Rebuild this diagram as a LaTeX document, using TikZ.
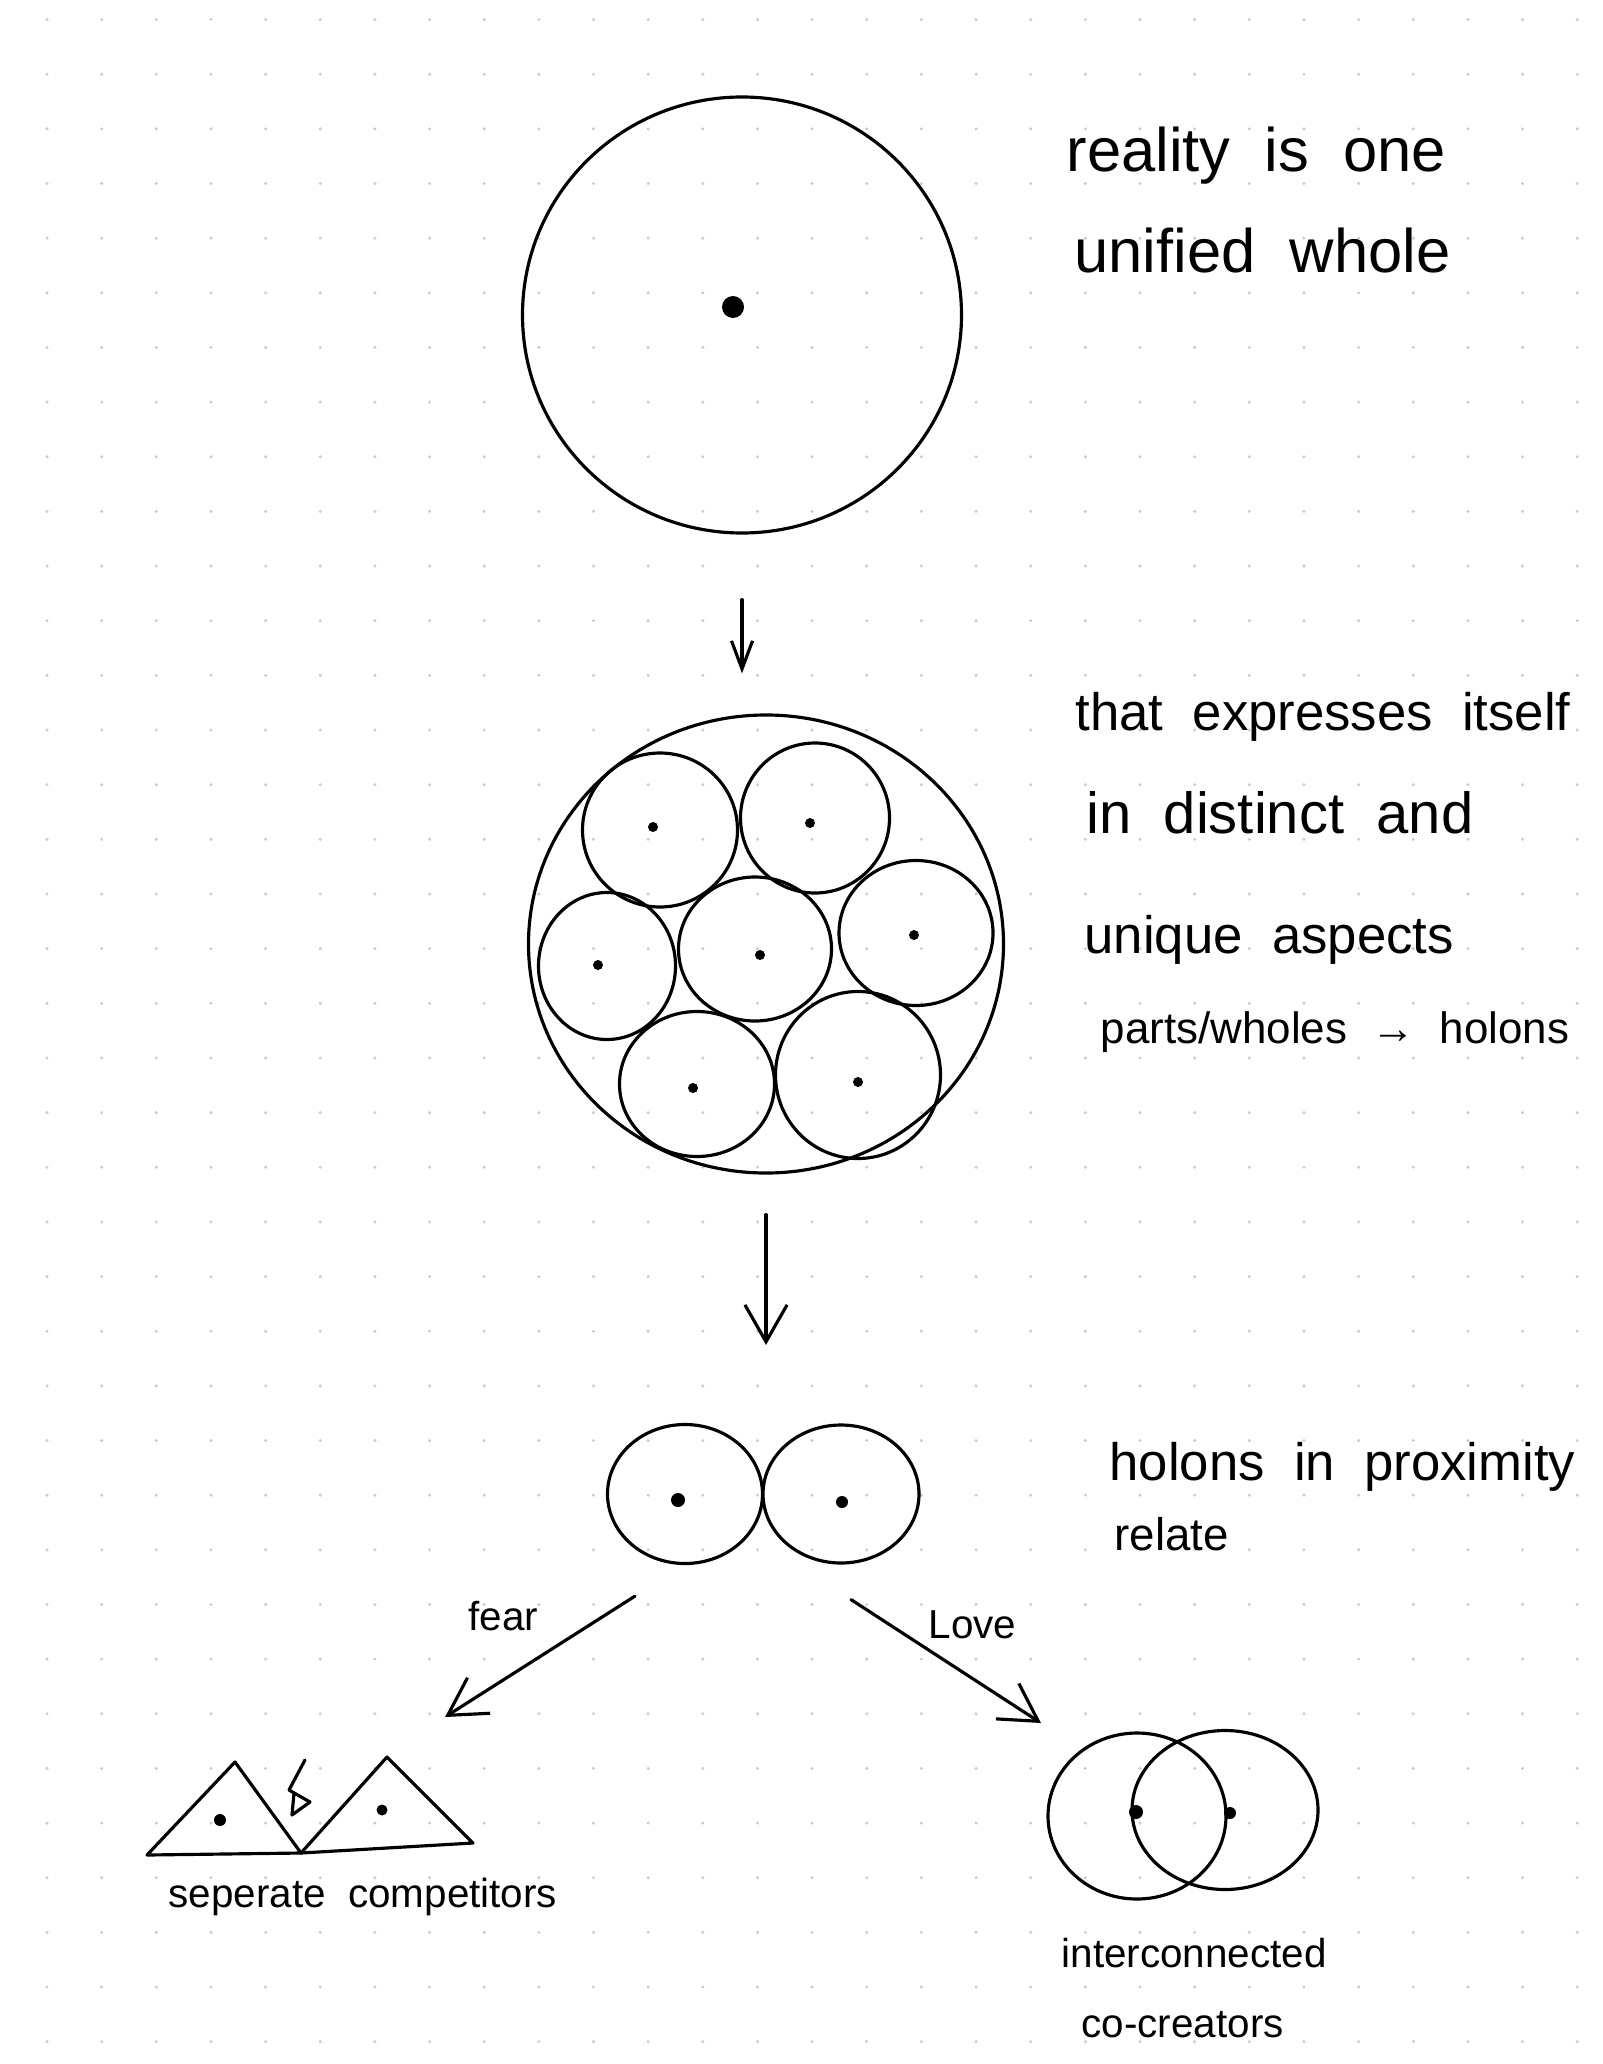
\documentclass[tikz,border=0pt]{standalone}
\usepackage{fontspec}
\setmainfont{Liberation Sans}[WordSpace=2]
\usetikzlibrary{arrows.meta,shapes.geometric}
\newlength{\px}
\setlength{\px}{0.02cm}

\begin{document}
\begin{tikzpicture}[
  x=0.02cm, y=-0.02cm,
  line width=1.8pt, line cap=round, line join=round,
  blob/.style 2 args={draw, ellipse, inner sep=0pt, minimum width=#1\px, minimum height=#2\px},
  txt/.style={anchor=base west, inner sep=0pt},
  big text/.style={txt, font=\fontsize{35}{42}\selectfont},
  mid text/.style={txt, font=\fontsize{30}{36}\selectfont},
  small text/.style={txt, font=\fontsize{23}{28}\selectfont},
  flow/.style={-{Straight Barb[length=21pt, width=24pt]}}
]
\useasboundingbox (0,0) rectangle (1602,2064);

% dotted paper
\foreach \i in {0,...,28}
  \foreach \j in {0,...,37}
    \fill[gray!40] ({47+54.65*\i},{19.6+54.65*\j}) circle (1.7);

% one unified whole
\node[blob={439}{436}] (whole) at (742,315) {};
\fill (733,307) circle (11);

% distinct aspects
\node[blob={475}{458}] (cluster) at (766,944) {};
\node[blob={155}{154}] (c1) at (660,830) {};
\node[blob={149}{150}] (c2) at (815,818) {};
\node[blob={137}{147}] (c3) at (607,966) {};
\node[blob={153}{144}] (c4) at (755,949) {};
\node[blob={154}{145}] (c5) at (916,933) {};
\node[blob={155}{145}] (c6) at (697,1084) {};
\node[blob={165}{167}] (c7) at (858,1075) {};
\foreach \p in {(653,827),(810,823),(598,965),(760,955),(914,935),(693,1088),(858,1082)}
  \fill \p circle (5);

% two holons
\node[blob={155}{139}] (p1) at (685,1494) {};
\node[blob={156}{138}] (p2) at (841,1494) {};
\fill (678,1500) circle (7);
\fill (842,1502) circle (6);

% competitors
\draw (147,1855) -- (235,1762) -- (301,1853) -- cycle;
\draw (301,1853) -- (387,1757) -- (473,1843) -- cycle;
\draw (305,1760) -- (289,1790) -- (310,1802) -- (292,1815) -- (294,1793);
\fill (220,1820) circle (6);
\fill (382,1810) circle (5.5);

% co-creators
\node[blob={178}{166}] (v1) at (1137,1816) {};
\node[blob={186}{159}] (v2) at (1225,1810) {};
\fill (1136,1812) circle (7);
\fill (1230,1813) circle (6);

% arrows
\coordinate (fearto) at (445,1717);
\coordinate (loveto) at (1041,1723);
\draw[-{Straight Barb[length=16pt, width=12pt]}, shorten <=65\px, shorten >=40\px]
  (whole.south) -- (whole.south |- cluster.north);
\draw[flow, shorten <=40\px, shorten >=78\px]
  (cluster.south) -- (cluster.south |- p1.north);
\draw[flow] ([xshift=-50\px, yshift=-31\px]p1.south) -- (fearto);
\draw[flow] ([xshift=10\px, yshift=-35\px]p2.south) -- (loveto);

% notes
\node[big text] (reality) at (1065,172) {reality is one};
\node[big text] (unified) at (1073,273) {unified whole};
\node[mid text] (expresses) at (1074,730) {that expresses itself};
\node[mid text, font=\fontsize{33}{40}\selectfont] (distinct) at (1085,833) {in distinct and};
\node[mid text] (unique) at (1083,953) {unique aspects};
\node[txt, font=\fontsize{25}{30}\selectfont] (holons) at (1099,1043) {parts/wholes → holons};
\node[mid text] (proximity) at (1108,1480) {holons in proximity};
\node[txt, font=\fontsize{26}{31}\selectfont] (relate) at (1113,1550) {relate};
\node[small text] (fear) at (467,1630) {fear};
\node[small text] (love) at (927,1638) {Love};
\node[small text] (separate) at (167,1907) {seperate competitors};
\node[small text] (inter) at (1060,1967) {interconnected};
\node[small text] (cocreators) at (1080,2037) {co-creators};
\end{tikzpicture}
\end{document}
